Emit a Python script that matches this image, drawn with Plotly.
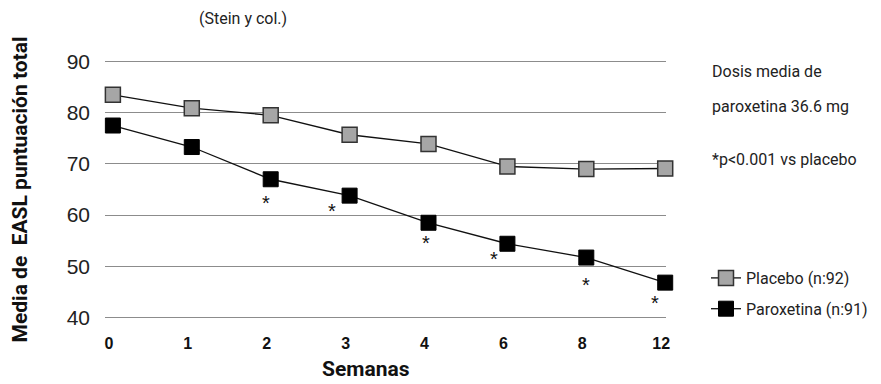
import plotly.graph_objects as go

semanas = ["0", "1", "2", "3", "4", "6", "8", "12"]
placebo = [83.5, 80.9, 79.5, 75.7, 73.9, 69.5, 69.0, 69.1]
paroxetina = [77.5, 73.3, 67.0, 63.8, 58.5, 54.4, 51.7, 46.8]
signif_weeks = ["2", "3", "4", "6", "8", "12"]
y_ticks = [40, 50, 60, 70, 80, 90]

NARROW = "Roboto, Liberation Sans Narrow, sans-serif"

# page body has an 8px default margin; positions below are in screen pixels
OFF = 8
W, H = 881, 384
L, R, T, B = 105 - OFF, W - (666 - OFF), 59 - OFF, H - (320 - OFF)
PW, PH = W - L - R, H - T - B


def px_x(px):
    return (px - OFF - L) / PW


def px_y(py):
    return (H - B - (py - OFF)) / PH


fig = go.Figure()
fig.add_trace(go.Scatter(
    x=semanas, y=placebo, mode="lines+markers", name="Placebo (n:92)", cliponaxis=False,
    legendgroup="a",
    line=dict(color="#111111", width=1.3),
    marker=dict(symbol="square", size=15, color="#a6a6a6", line=dict(color="#333333", width=1.5)),
))
fig.add_trace(go.Scatter(
    x=semanas, y=paroxetina, mode="lines+markers", name="Paroxetina (n:91)", cliponaxis=False,
    legendgroup="b",
    line=dict(color="#111111", width=1.3),
    marker=dict(symbol="square", size=15, color="#000000", line=dict(color="#000000", width=1)),
))

# asterisks (offsets in pixels)
ast_shift = {"2": (-5, -24), "3": (-18, -15), "4": (-3, -20), "6": (-13, -15), "8": (0, -27), "12": (-10, -20)}
for w in signif_weeks:
    i = semanas.index(w)
    dx, dy = ast_shift[w]
    fig.add_annotation(x=i, y=paroxetina[i], text="*", showarrow=False,
                       xshift=dx, yshift=dy, font=dict(size=20, color="#111111", family="Liberation Sans"))

fig.add_annotation(xref="paper", yref="paper", x=px_x(197), y=px_y(18), text="(Stein y col.)",
                   showarrow=False, xanchor="left", yanchor="middle",
                   font=dict(size=16, family=NARROW, color="#222222"))
for txt, ypx in [("Dosis media de", 72), ("paroxetina 36.6 mg", 106), ("*p<0.001 vs placebo", 159)]:
    fig.add_annotation(xref="paper", yref="paper", x=px_x(710), y=px_y(ypx),
                       text=txt, showarrow=False, xanchor="left", yanchor="middle",
                       font=dict(size=16, family=NARROW, color="#222222"))

fig.add_annotation(xref="paper", yref="paper", x=px_x(366), y=px_y(369), text="<b>Semanas</b>",
                   showarrow=False, xanchor="center", yanchor="middle",
                   font=dict(size=21, family=NARROW, color="#111111"))

fig.update_layout(
    width=W, height=H,
    margin=dict(l=L, r=R, t=T, b=B, autoexpand=False),
    paper_bgcolor="white", plot_bgcolor="white",
    font=dict(family=NARROW, color="#222222"),
    showlegend=True,
    legend=dict(x=px_x(706), y=px_y(261), xanchor="left", yanchor="top",
                font=dict(size=16, family=NARROW, color="#222222"), traceorder="grouped",
                bgcolor="rgba(0,0,0,0)", itemwidth=30, tracegroupgap=7),
    xaxis=dict(type="category", range=[-0.1, 7.01], showgrid=False, showline=False, zeroline=False,
               ticks="", ticklabelshift=-4, ticklabelstandoff=12, automargin=False,
               tickfont=dict(size=16, family="Liberation Sans", color="#111111", weight="bold")),
    yaxis=dict(range=[39.5, 90.5], tickvals=y_ticks, showgrid=True, gridcolor="#8c8c8c", gridwidth=1.2,
               zeroline=False, showline=False, ticks="", ticklabelstandoff=14, automargin=False,
               tickfont=dict(size=21, family="Liberation Sans", color="#222222"),
               title=dict(text="<b>Media de  EASL puntuación total</b>",
                          font=dict(size=21, family=NARROW, color="#111111"), standoff=47)),
)

fig.write_html("out.html")
